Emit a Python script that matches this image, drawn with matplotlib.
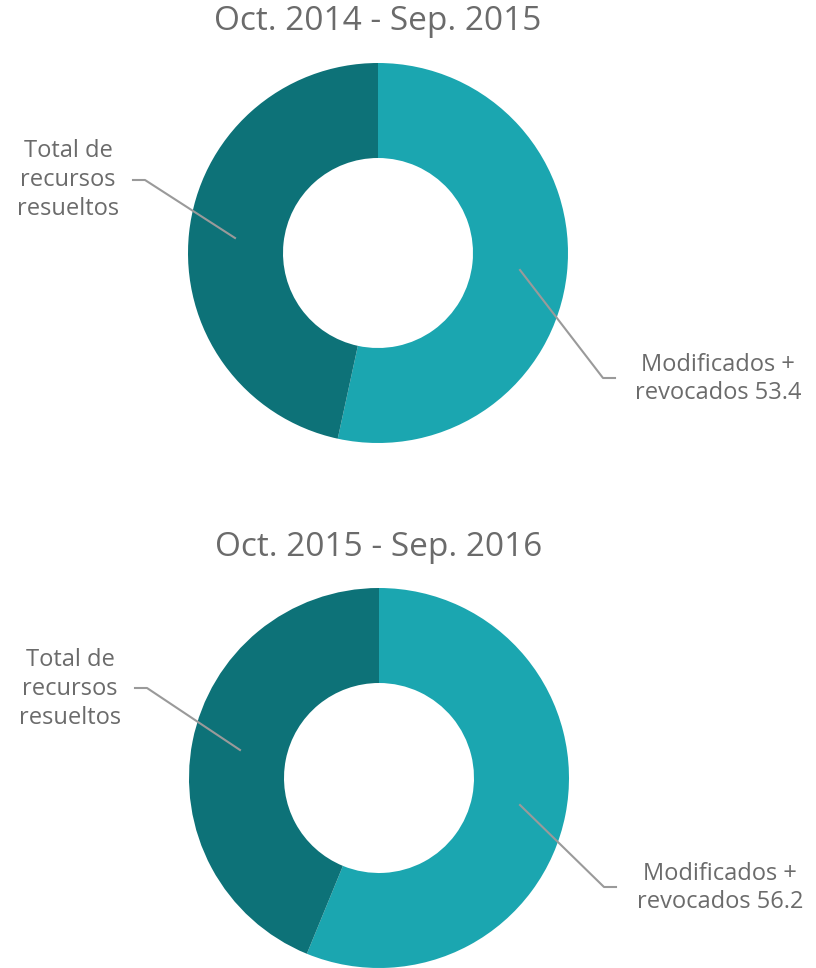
import matplotlib.pyplot as plt

# Data
periods = ['Oct. 2014 - Sep. 2015', 'Oct. 2015 - Sep. 2016']
modificados = [53.4, 56.2]
total_label = 'Total de\nrecursos\nresueltos'
colors = ['#1ba6b0', '#0d7278']
text_color = '#6b6b6b'
line_color = '#9a9a9a'

plt.rcParams['font.family'] = ['Open Sans', 'DejaVu Sans']

fig = plt.figure(figsize=(8.16, 9.68), dpi=100)
ax = fig.add_axes([0, 0, 1, 1])

# layout in pixel coords: center, title y, label anchors
centers = [(378, 253), (379, 778)]
title_y = [22, 548]
left_lbl = [(68, 180), (70, 689)]
left_line = [[(133, 180), (145, 180), (235, 238)], [(135, 688), (147, 688), (240, 750)]]
right_lbl = [(718, 379), (720, 888)]
right_line = [[(520, 270), (603, 378), (615, 378)], [(520, 805), (604, 887), (616, 887)]]

for i, period in enumerate(periods):
    cx, cy = centers[i]
    vals = [modificados[i], 100 - modificados[i]]
    # y axis is inverted, so counterclock=True draws clockwise on screen
    ax.pie(vals, colors=colors, center=(cx, cy), radius=190, startangle=-90,
           counterclock=True, wedgeprops=dict(width=95, linewidth=0),
           frame=True)
    ax.text(cx, title_y[i], period, ha='center', va='center', fontsize=24,
            color=text_color)
    ax.text(left_lbl[i][0], left_lbl[i][1], total_label, ha='center', va='center',
            fontsize=17, color=text_color, linespacing=1.26)
    ax.text(right_lbl[i][0], right_lbl[i][1],
            'Modificados +\nrevocados {:.1f}'.format(modificados[i]),
            ha='center', va='center', fontsize=17, color=text_color,
            linespacing=1.26)
    for pts in (left_line[i], right_line[i]):
        xs, ys = zip(*pts)
        ax.plot(xs, ys, color=line_color, lw=1.5)

ax.set_xlim(0, 816)
ax.set_ylim(968, 0)
ax.set_aspect('equal')
ax.axis('off')

fig.savefig('out.png', dpi=100, facecolor='white')
